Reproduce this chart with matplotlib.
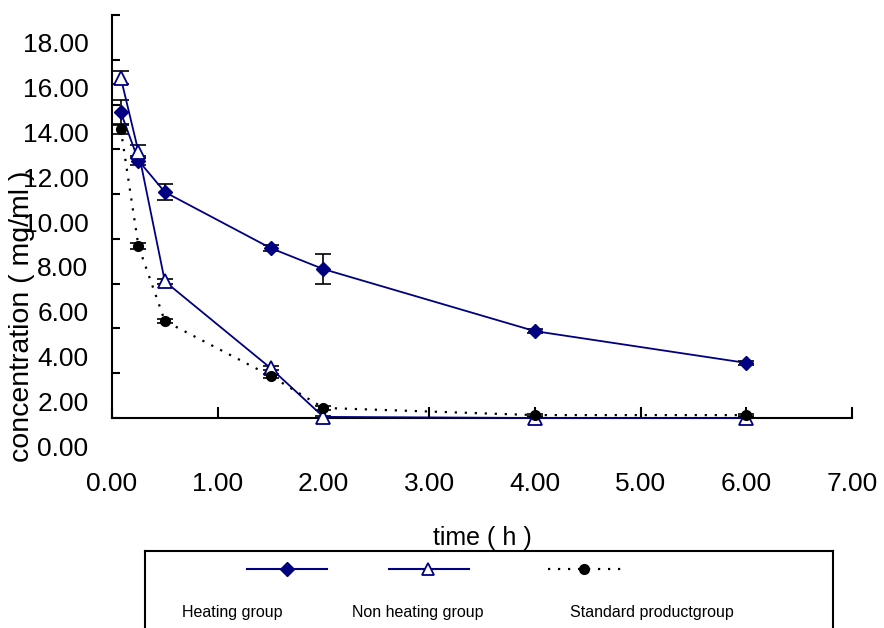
import numpy as np
import matplotlib
matplotlib.use("Agg")
import matplotlib.pyplot as plt
from matplotlib.transforms import ScaledTranslation

plt.rcParams['font.family'] = ['Liberation Sans', 'DejaVu Sans']

# --- data ---
time_h = [0.083, 0.25, 0.5, 1.5, 2.0, 4.0, 6.0]
heating = [13.66, 11.5, 10.09, 7.59, 6.65, 3.88, 2.46]
heating_err = [0.55, 0.2, 0.36, 0.15, 0.67, 0.1, 0.1]
non_heating = [15.2, 11.9, 6.1, 2.23, 0.05, 0.0, 0.0]
non_heating_err = [0.3, 0.3, 0.1, 0.1, 0.05, 0.05, 0.05]
standard = [12.9, 7.68, 4.33, 1.88, 0.45, 0.13, 0.13]
standard_err = [0.2, 0.15, 0.1, 0.1, 0.1, 0.05, 0.05]

y_ticks = np.arange(0, 19, 2)
x_ticks = np.arange(0, 8, 1)
labels = ["Heating group", "Non heating group", "Standard productgroup"]

navy = "#000080"
W, H = 884, 628
fig = plt.figure(figsize=(W / 100, H / 100), dpi=100)

# main axes placed in pixel terms
ax = fig.add_axes([112 / W, 1 - 418 / H, 740 / W, 403 / H])

for vals, errs in [(heating, heating_err), (non_heating, non_heating_err),
                   (standard, standard_err)]:
    ax.errorbar(time_h, vals, yerr=errs, fmt="none", ecolor="black",
                elinewidth=1.2, capsize=6, capthick=1.2, zorder=2)

ax.plot(time_h, heating, color=navy, lw=1.3, marker="D", ms=7,
        mfc=navy, mec=navy, zorder=3, clip_on=False)
ax.plot(time_h, non_heating, color=navy, lw=1.3, marker="^", ms=10,
        mfc="white", mec=navy, mew=1.3, zorder=3, clip_on=False)
ax.plot(time_h, standard, color="black", lw=1.6, ls=(0, (1, 3.5)), marker="o", ms=7,
        mfc="black", mec="black", zorder=3, clip_on=False)

ax.set_xlim(0, 7)
ax.set_ylim(0, 18)
ax.set_xticks(x_ticks)
ax.set_yticks(y_ticks)
ax.set_xticklabels([f"{v:.2f}" for v in x_ticks], fontsize=19)
ax.set_yticklabels([f"{v:.2f}" for v in y_ticks], fontsize=19)

for s in ["top", "right"]:
    ax.spines[s].set_visible(False)
for s in ["left", "bottom"]:
    ax.spines[s].set_linewidth(1.5)
ax.tick_params(axis="y", direction="in", length=6, width=1.5, pad=17)
ax.tick_params(axis="x", direction="in", length=8, width=1.5, pad=39)

# the y labels sit a bit below their ticks in the original
shift = ScaledTranslation(0, -28 / 100, fig.dpi_scale_trans)
for lab in ax.get_yticklabels():
    lab.set_transform(lab.get_transform() + shift)

fig.text(22 / W, 1 - 316 / H, "concentration ( mg/ml )", rotation=90,
         ha="center", va="center", fontsize=20.5)
fig.text(482 / W, 1 - 538 / H, "time ( h )", ha="center", va="center", fontsize=18)

# legend box, handles above labels
lax = fig.add_axes([145 / W, 0, (833 - 145) / W, (H - 551) / H])
lax.set_xlim(145, 833)
lax.set_ylim(H, 551)
lax.set_xticks([])
lax.set_yticks([])
lax.spines["bottom"].set_visible(False)
for s in ["top", "left", "right"]:
    lax.spines[s].set_linewidth(1.5)

hy, ty = 569, 613
lax.plot([247, 327], [hy, hy], color=navy, lw=1.5)
lax.plot([287], [hy], marker="D", ms=7, color=navy)
lax.plot([389, 469], [hy, hy], color=navy, lw=1.5)
lax.plot([428], [hy], marker="^", ms=9, mfc="white", mec=navy, mew=1.3)
lax.plot([548, 624], [hy, hy], color="black", lw=1.6, ls=(0, (1, 3.5)))
lax.plot([584], [hy], marker="o", ms=7, color="black")
for x, t in zip([232, 418, 652], labels):
    lax.text(x, ty, t, ha="center", va="center", fontsize=11.5)

fig.savefig("out.png", dpi=100)
